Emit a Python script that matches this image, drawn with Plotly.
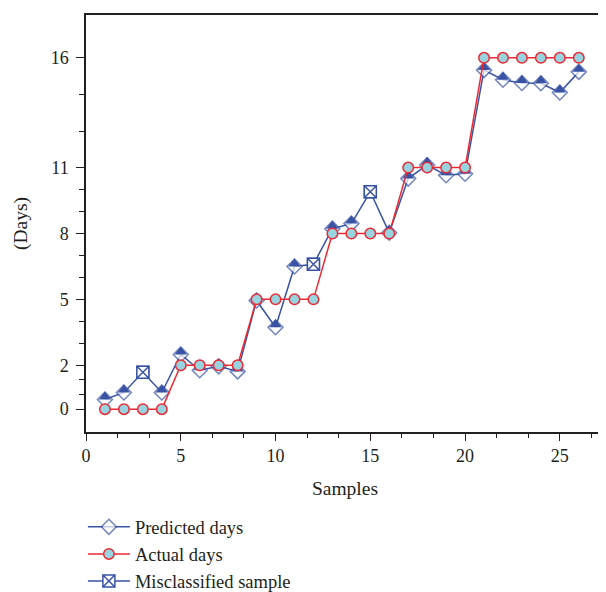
import plotly.graph_objects as go

samples = list(range(1, 27))
actual_days = [0, 0, 0, 0, 2, 2, 2, 2, 5, 5, 5, 5, 8, 8, 8, 8, 11, 11, 11, 11, 16, 16, 16, 16, 16, 16]
predicted_days = [0.44, 0.76, 1.68, 0.76, 2.49, 1.77, 1.95, 1.72, 4.95, 3.73, 6.5, 6.6, 8.22, 8.45, 9.9, 8.03,
                  10.5, 11.12, 10.65, 10.72, 15.44, 15.0, 14.85, 14.84, 14.42, 15.36]
misclassified = [3, 12, 15]
y_tickvals = [0, 2, 5, 8, 11, 16]
y_minor = [0.667, 1.333, 3, 4, 6, 7, 9, 10, 12.667, 14.333]
x_tickvals = [0, 5, 10, 15, 20, 25]
x_minor = [1.667, 3.333, 6.667, 8.333, 11.667, 13.333, 16.667, 18.333, 21.667, 23.333, 26.667]

BLUE = "#3953a4"
RED = "#ec2a33"
FILL = "#97d4e0"
INK = "#231f20"
FONT = "Liberation Serif"

pred_symbols = ["square-x" if s in misclassified else "diamond" for s in samples]
pred_sizes = [12 if s in misclassified else 11.5 for s in samples]
ok_x = [s for s in samples if s not in misclassified]
ok_y = [p for s, p in zip(samples, predicted_days) if s not in misclassified]
mis_x = []
mis_y = []
for s in misclassified:
    mis_x += [s, None]
    mis_y += [predicted_days[s - 1], None]

fig = go.Figure()
fig.add_trace(go.Scatter(
    x=samples, y=predicted_days, mode="lines+markers", name="Predicted days",
    line=dict(color=BLUE, width=1.5), legendrank=1,
    marker=dict(symbol=pred_symbols, size=pred_sizes, color="white", line=dict(color=BLUE, width=1.5)),
))
# filled upper half of each diamond
fig.add_trace(go.Scatter(
    x=ok_x, y=ok_y, mode="markers", showlegend=False, hoverinfo="skip",
    marker=dict(symbol="triangle-down", angle=180, size=10.6, standoff=2.65, color=BLUE, line=dict(width=0)),
))
fig.add_trace(go.Scatter(
    x=mis_x, y=mis_y, mode="lines+markers", name="Misclassified sample", connectgaps=False,
    line=dict(color=BLUE, width=1.5), legendrank=3,
    marker=dict(symbol="square-x", size=12, color="white", line=dict(color=BLUE, width=1.5)),
))
fig.add_trace(go.Scatter(
    x=samples, y=actual_days, mode="lines+markers", name="Actual days",
    line=dict(color=RED, width=1.5), legendrank=2,
    marker=dict(symbol="circle", size=10.5, color=FILL, line=dict(color=RED, width=1.5)),
))

axis_common = dict(
    showgrid=False, zeroline=False, showline=True, linecolor=INK, linewidth=1.5,
    mirror=True, ticks="outside", tickcolor=INK, tickwidth=1.2,
    tickfont=dict(family=FONT, size=18, color=INK),
)
fig.update_xaxes(
    range=[0, 27.33], tickmode="array", tickvals=x_tickvals, ticklen=7,
    minor=dict(tickmode="array", tickvals=x_minor, ticks="outside", ticklen=4, tickcolor=INK, tickwidth=1.2),
    title=dict(text="Samples", font=dict(family=FONT, size=19.5, color=INK), standoff=16),
    **axis_common,
)
fig.update_yaxes(
    range=[-1.04, 17.95], tickmode="array", tickvals=y_tickvals, ticklen=8, ticklabelstandoff=4,
    minor=dict(tickmode="array", tickvals=y_minor, ticks="outside", ticklen=5, tickcolor=INK, tickwidth=1.2),
    title=dict(text="(Days)", font=dict(family=FONT, size=19.5, color=INK), standoff=18),
    **axis_common,
)
fig.update_layout(
    width=606, height=600,
    margin=dict(l=78, r=10, t=5, b=176),
    plot_bgcolor="white", paper_bgcolor="white",
    legend=dict(
        x=-0.006, xanchor="left", y=-0.183, yanchor="top",
        font=dict(family=FONT, size=18.5, color=INK), tracegroupgap=0, itemwidth=42,
        bgcolor="rgba(0,0,0,0)",
    ),
)
fig.write_html("out.html")
